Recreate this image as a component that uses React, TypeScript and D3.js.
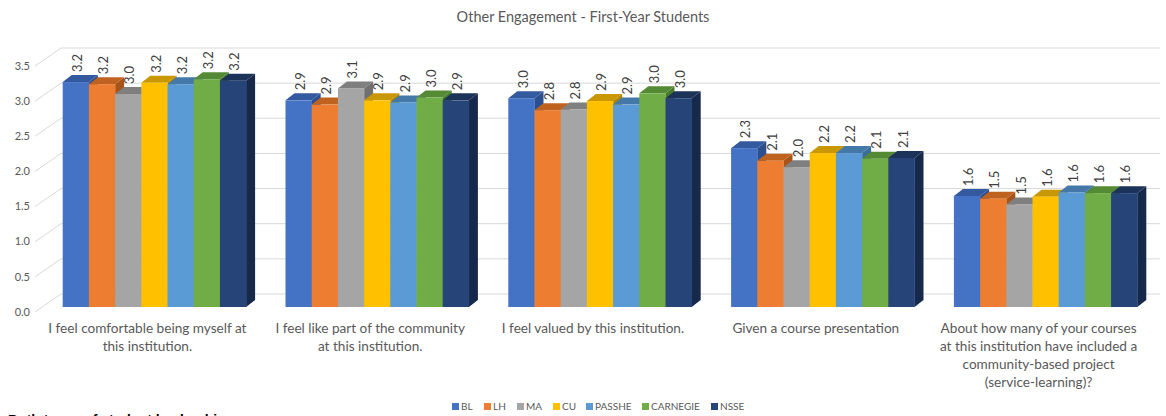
import React from "react";
import * as d3 from "d3";

const title = "Other Engagement - First-Year Students";
const categories = [
  ["I feel comfortable being myself at", "this institution."],
  ["I feel like part of the community", "at this institution."],
  ["I feel valued by this institution."],
  ["Given a course presentation"],
  ["About how many of your courses", "at this institution have included a", "community-based project", "(service-learning)?"],
];
const seriesNames = ["BL", "LH", "MA", "CU", "PASSHE", "CARNEGIE", "NSSE"];
const BL = [3.2, 2.94, 2.97, 2.26, 1.58];
const LH = [3.17, 2.88, 2.8, 2.08, 1.54];
const MA = [3.03, 3.11, 2.81, 1.99, 1.46];
const CU = [3.19, 2.94, 2.93, 2.19, 1.57];
const PASSHE = [3.17, 2.91, 2.88, 2.19, 1.63];
const CARNEGIE = [3.24, 2.98, 3.04, 2.11, 1.62];
const NSSE = [3.22, 2.94, 2.97, 2.12, 1.62];
const seriesValues = [BL, LH, MA, CU, PASSHE, CARNEGIE, NSSE];
const yTicks = [0, 0.5, 1, 1.5, 2, 2.5, 3, 3.5];
const footnote = "Both types of student leadership";

const frontColors = ["#4472C4", "#ED7D31", "#A5A5A5", "#FFC000", "#5B9BD5", "#70AD47", "#264478"];
const topColors = ["#33599f", "#c0621f", "#7f7f7f", "#c99700", "#4478a8", "#538a33", "#1c3359"];
const sideColors = ["#2c4f8f", "#a85418", "#707070", "#b08400", "#3c6c98", "#487a2c", "#17294a"];

const W = 1166;
const H = 416;
const DX = 9;
const DY = 7;
const WALL_DX = 26;
const WALL_DY = 13;

export default function App() {
  const y = d3.scaleLinear().domain([0, 3.5]).range([307, 61]);
  const catKeys = categories.map((_, i) => String(i));
  const x0 = d3.scaleBand<string>().domain(catKeys).range([43, 1157]).padding(0);
  const bw = x0.bandwidth();
  const groupW = 183.4;
  const textColor = "#595959";
  const font = "Lato, 'Open Sans', sans-serif";

  const legendX = [452, 484, 517, 553, 586, 642, 711];

  return (
    <svg width={W} height={H} style={{ position: "absolute", left: 0, top: 0, background: "#fff" }}>
      <rect width={W} height={H} fill="#fff" />
      <text x={583} y={22} textAnchor="middle" fontFamily={font} fontSize={14.5} fill={textColor}>
        {title}
      </text>
      {/* gridlines */}
      {yTicks.map((t) => (
        <g key={t}>
          <line x1={35} y1={y(t) + 5} x2={35 + WALL_DX} y2={y(t) - WALL_DY} stroke="#d9d9d9" strokeWidth={1} />
          <line x1={35 + WALL_DX} y1={y(t) - WALL_DY} x2={1160} y2={y(t) - WALL_DY} stroke="#d9d9d9" strokeWidth={1} />
          <text x={30} y={y(t) + 6} textAnchor="end" dominantBaseline="middle" fontFamily={font} fontSize={11} fill={textColor}>
            {d3.format(".1f")(t)}
          </text>
        </g>
      ))}
      {/* bars */}
      {catKeys.map((ck, ci) => {
        const cx = (x0(ck) as number) + bw / 2;
        const x1 = d3.scaleBand<string>().domain(seriesNames).range([cx - groupW / 2, cx + groupW / 2]).padding(0);
        const b = x1.bandwidth();
        return (
          <g key={ck}>
            {seriesNames.map((s, si) => {
              const v = seriesValues[si][ci];
              const xl = x1(s) as number;
              const xr = xl + b;
              const yt = y(v);
              const yb = y(0);
              const side = `M${xr},${yt} L${xr + DX},${yt - DY} L${xr + DX},${yb - DY} L${xr},${yb} Z`;
              const top = `M${xl},${yt} L${xl + DX},${yt - DY} L${xr + DX},${yt - DY} L${xr},${yt} Z`;
              return (
                <g key={s}>
                  <path d={side} fill={sideColors[si]} />
                  <path d={top} fill={topColors[si]} />
                  <rect x={xl} y={yt} width={b + 0.3} height={yb - yt} fill={frontColors[si]} />
                </g>
              );
            })}
            {seriesNames.map((s, si) => {
              const v = seriesValues[si][ci];
              const xl = x1(s) as number;
              const lx = xl + b / 2 + 3;
              const ly = y(v) - DY - 3;
              return (
                <text
                  key={"l" + s}
                  transform={`translate(${lx},${ly}) rotate(-90)`}
                  dominantBaseline="middle"
                  fontFamily={font}
                  fontSize={13}
                  fill="#404040"
                >
                  {d3.format(".1f")(v)}
                </text>
              );
            })}
            <text textAnchor="middle" fontFamily={font} fontSize={13.6} fill={textColor}>
              {categories[ci].map((line, li) => (
                <tspan key={li} x={cx - 7} y={333 + li * 18}>
                  {line}
                </tspan>
              ))}
            </text>
          </g>
        );
      })}
      {/* legend */}
      {seriesNames.map((s, si) => (
        <g key={s} transform={`translate(${legendX[si]},${407})`}>
          <rect x={0} y={-4} width={7} height={7} fill={frontColors[si]} />
          <text x={9} y={0} dominantBaseline="middle" fontFamily={font} fontSize={10} fill={textColor}>
            {s}
          </text>
        </g>
      ))}
      <text x={8} y={425} fontFamily="'Liberation Sans', Arial, sans-serif" fontWeight="bold" fontSize={14} fill="#000">
        {footnote}
      </text>
    </svg>
  );
}
